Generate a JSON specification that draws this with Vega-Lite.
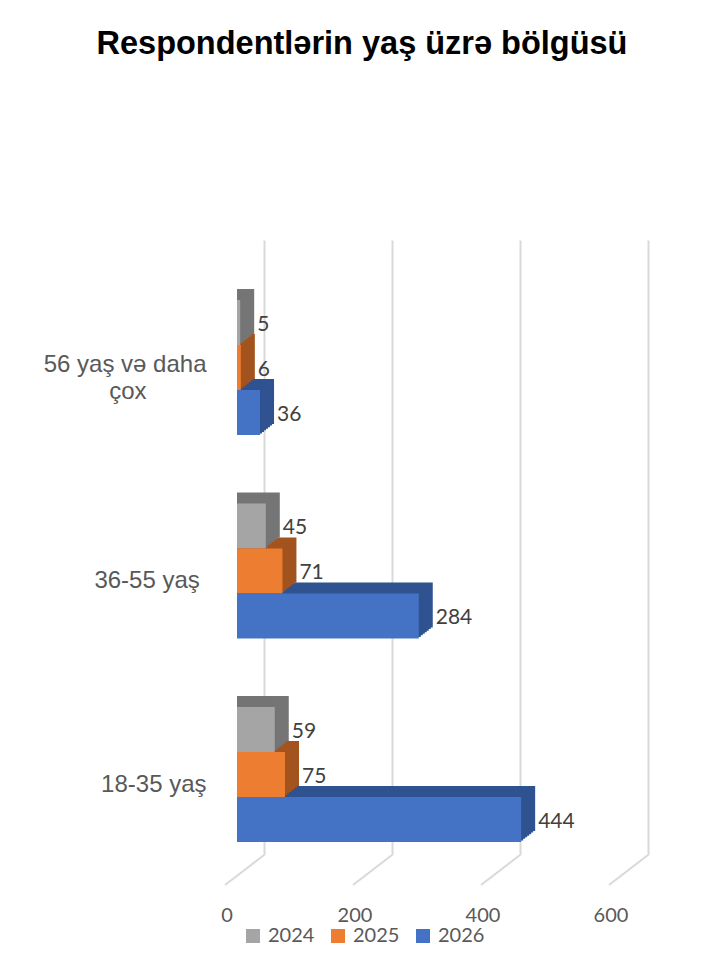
{
  "$schema": "https://vega.github.io/schema/vega-lite/v6.json",
  "autosize": {"type": "none"},
  "width": 384,
  "height": 615,
  "padding": {"left": 237, "top": 240, "right": 99, "bottom": 114},
  "background": "white",
  "config": {"view": {"stroke": null}, "font": "Liberation Sans"},
  "title": {"text": "Respondentlərin yaş üzrə bölgüsü", "font": "Liberation Sans", "fontSize": 32.5, "fontWeight": "bold", "color": "#000000", "anchor": "middle", "dx": -67, "offset": 154, "baseline": "alphabetic"},
  "datasets": {
    "bars": [
      {"cat": "56 yaş və daha çox", "year": "2024", "value": 5},
      {"cat": "56 yaş və daha çox", "year": "2025", "value": 6},
      {"cat": "56 yaş və daha çox", "year": "2026", "value": 36},
      {"cat": "36-55 yaş", "year": "2024", "value": 45},
      {"cat": "36-55 yaş", "year": "2025", "value": 71},
      {"cat": "36-55 yaş", "year": "2026", "value": 284},
      {"cat": "18-35 yaş", "year": "2024", "value": 59},
      {"cat": "18-35 yaş", "year": "2025", "value": 75},
      {"cat": "18-35 yaş", "year": "2026", "value": 444}
    ],
    "ticks": [{"tick": 0}, {"tick": 200}, {"tick": 400}, {"tick": 600}]
  },
  "data": {"name": "bars"},
  "encoding": {
    "y": {
      "field": "cat", "type": "nominal",
      "sort": ["56 yaş və daha çox", "36-55 yaş", "18-35 yaş"],
      "scale": {"paddingInner": 0.3366, "paddingOuter": 0.1794, "align": 0.822},
      "axis": {"title": null, "domain": false, "ticks": false, "labelFont": "Liberation Sans", "labelFontSize": 24, "labelColor": "#595959", "labelPadding": 31,
        "labelOffset": {"condition": {"test": "datum.value == '56 yaş və daha çox'", "value": -2.5}, "value": 10},
        "labelLineHeight": 27, "labelLimit": 400,
        "labelExpr": "datum.value == '56 yaş və daha çox' ? ['56 yaş və daha', 'çox\u00a0\u00a0\u00a0\u00a0\u00a0\u00a0\u00a0\u00a0\u00a0\u200b'] : datum.value == '36-55 yaş' ? '36-55 yaş\u00a0\u200b' : datum.label"}
    },
    "x": {
      "field": "value", "type": "quantitative", "stack": null,
      "scale": {"domain": [0, 600], "nice": false},
      "axis": {"title": null, "domain": false, "ticks": false, "grid": true, "gridColor": "#D9D9D9", "gridWidth": 2, "tickOffset": 27, "labelOffset": -37.5, "labelPadding": 50, "values": [0, 200, 400, 600], "labelFont": "Lato", "labelFontSize": 20, "labelColor": "#595959", "labelFlush": false}
    }
  },
  "layer": [
    {
      "data": {"name": "ticks"},
      "mark": {"type": "rule", "color": "#D9D9D9", "strokeWidth": 2, "xOffset": 27, "x2Offset": -12, "y2Offset": 30},
      "encoding": {
        "x": {"field": "tick", "type": "quantitative"},
        "x2": {"field": "tick"},
        "y": {"value": "height"},
        "y2": {"value": "height"}
      }
    },
    {"transform": [{"filter": "datum.year == '2024'"}], "mark": {"type": "bar", "height": 45, "color": "#757575", "xOffset": 14, "x2Offset": 14, "yOffset": -56, "y2Offset": -56}},
    {"transform": [{"filter": "datum.year == '2025'"}], "mark": {"type": "bar", "height": 45, "color": "#A3531D", "xOffset": 14, "x2Offset": 14, "yOffset": -11, "y2Offset": -11}},
    {"transform": [{"filter": "datum.year == '2026'"}], "mark": {"type": "bar", "height": 45, "color": "#2F5290", "xOffset": 14, "x2Offset": 14, "yOffset": 34, "y2Offset": 34}},
    {"transform": [{"filter": "datum.year == '2024'"}], "mark": {"type": "bar", "height": 45, "color": "#757575", "xOffset": 12, "x2Offset": 12, "yOffset": -54.43, "y2Offset": -54.43}},
    {"transform": [{"filter": "datum.year == '2025'"}], "mark": {"type": "bar", "height": 45, "color": "#A3531D", "xOffset": 12, "x2Offset": 12, "yOffset": -9.43, "y2Offset": -9.43}},
    {"transform": [{"filter": "datum.year == '2026'"}], "mark": {"type": "bar", "height": 45, "color": "#2F5290", "xOffset": 12, "x2Offset": 12, "yOffset": 35.57, "y2Offset": 35.57}},
    {"transform": [{"filter": "datum.year == '2024'"}], "mark": {"type": "bar", "height": 45, "color": "#757575", "xOffset": 10, "x2Offset": 10, "yOffset": -52.86, "y2Offset": -52.86}},
    {"transform": [{"filter": "datum.year == '2025'"}], "mark": {"type": "bar", "height": 45, "color": "#A3531D", "xOffset": 10, "x2Offset": 10, "yOffset": -7.86, "y2Offset": -7.86}},
    {"transform": [{"filter": "datum.year == '2026'"}], "mark": {"type": "bar", "height": 45, "color": "#2F5290", "xOffset": 10, "x2Offset": 10, "yOffset": 37.14, "y2Offset": 37.14}},
    {"transform": [{"filter": "datum.year == '2024'"}], "mark": {"type": "bar", "height": 45, "color": "#757575", "xOffset": 8, "x2Offset": 8, "yOffset": -51.29, "y2Offset": -51.29}},
    {"transform": [{"filter": "datum.year == '2025'"}], "mark": {"type": "bar", "height": 45, "color": "#A3531D", "xOffset": 8, "x2Offset": 8, "yOffset": -6.29, "y2Offset": -6.29}},
    {"transform": [{"filter": "datum.year == '2026'"}], "mark": {"type": "bar", "height": 45, "color": "#2F5290", "xOffset": 8, "x2Offset": 8, "yOffset": 38.71, "y2Offset": 38.71}},
    {"transform": [{"filter": "datum.year == '2024'"}], "mark": {"type": "bar", "height": 45, "color": "#757575", "xOffset": 6, "x2Offset": 6, "yOffset": -49.71, "y2Offset": -49.71}},
    {"transform": [{"filter": "datum.year == '2025'"}], "mark": {"type": "bar", "height": 45, "color": "#A3531D", "xOffset": 6, "x2Offset": 6, "yOffset": -4.71, "y2Offset": -4.71}},
    {"transform": [{"filter": "datum.year == '2026'"}], "mark": {"type": "bar", "height": 45, "color": "#2F5290", "xOffset": 6, "x2Offset": 6, "yOffset": 40.29, "y2Offset": 40.29}},
    {"transform": [{"filter": "datum.year == '2024'"}], "mark": {"type": "bar", "height": 45, "color": "#757575", "xOffset": 4, "x2Offset": 4, "yOffset": -48.14, "y2Offset": -48.14}},
    {"transform": [{"filter": "datum.year == '2025'"}], "mark": {"type": "bar", "height": 45, "color": "#A3531D", "xOffset": 4, "x2Offset": 4, "yOffset": -3.14, "y2Offset": -3.14}},
    {"transform": [{"filter": "datum.year == '2026'"}], "mark": {"type": "bar", "height": 45, "color": "#2F5290", "xOffset": 4, "x2Offset": 4, "yOffset": 41.86, "y2Offset": 41.86}},
    {"transform": [{"filter": "datum.year == '2024'"}], "mark": {"type": "bar", "height": 45, "color": "#757575", "xOffset": 2, "x2Offset": 2, "yOffset": -46.57, "y2Offset": -46.57}},
    {"transform": [{"filter": "datum.year == '2025'"}], "mark": {"type": "bar", "height": 45, "color": "#A3531D", "xOffset": 2, "x2Offset": 2, "yOffset": -1.57, "y2Offset": -1.57}},
    {"transform": [{"filter": "datum.year == '2026'"}], "mark": {"type": "bar", "height": 45, "color": "#2F5290", "xOffset": 2, "x2Offset": 2, "yOffset": 43.43, "y2Offset": 43.43}},
    {
      "transform": [{"filter": "datum.year == '2024'"}],
      "mark": {"type": "bar", "height": 45, "yOffset": -45, "y2Offset": -45},
      "encoding": {"color": {"field": "year", "type": "nominal", "scale": {"domain": ["2024", "2025", "2026"], "range": ["#A5A5A5", "#ED7D31", "#4472C4"]},
        "legend": {"orient": "none", "direction": "horizontal", "title": null, "legendX": 6, "legendY": 686, "symbolType": "square", "symbolSize": 196, "symbolStrokeWidth": 0, "labelFont": "Lato", "labelFontSize": 20, "labelColor": "#595959", "labelOffset": 5, "columnPadding": 13}}}
    },
    {
      "transform": [{"filter": "datum.year == '2025'"}],
      "mark": {"type": "bar", "height": 45, "yOffset": 0, "y2Offset": 0},
      "encoding": {"color": {"field": "year", "type": "nominal", "scale": {"domain": ["2024", "2025", "2026"], "range": ["#A5A5A5", "#ED7D31", "#4472C4"]},
        "legend": {"orient": "none", "direction": "horizontal", "title": null, "legendX": 6, "legendY": 686, "symbolType": "square", "symbolSize": 196, "symbolStrokeWidth": 0, "labelFont": "Lato", "labelFontSize": 20, "labelColor": "#595959", "labelOffset": 5, "columnPadding": 13}}}
    },
    {
      "transform": [{"filter": "datum.year == '2026'"}],
      "mark": {"type": "bar", "height": 45, "yOffset": 45, "y2Offset": 45},
      "encoding": {"color": {"field": "year", "type": "nominal", "scale": {"domain": ["2024", "2025", "2026"], "range": ["#A5A5A5", "#ED7D31", "#4472C4"]},
        "legend": {"orient": "none", "direction": "horizontal", "title": null, "legendX": 6, "legendY": 686, "symbolType": "square", "symbolSize": 196, "symbolStrokeWidth": 0, "labelFont": "Lato", "labelFontSize": 20, "labelColor": "#595959", "labelOffset": 5, "columnPadding": 13}}}
    },
    {"transform": [{"filter": "datum.year == '2024'"}], "mark": {"type": "text", "align": "left", "baseline": "middle", "xOffset": 17, "yOffset": -43, "font": "Lato", "fontSize": 21, "color": "#404040"}, "encoding": {"text": {"field": "value", "type": "quantitative"}}},
    {"transform": [{"filter": "datum.year == '2025'"}], "mark": {"type": "text", "align": "left", "baseline": "middle", "xOffset": 17, "yOffset": 2, "font": "Lato", "fontSize": 21, "color": "#404040"}, "encoding": {"text": {"field": "value", "type": "quantitative"}}},
    {"transform": [{"filter": "datum.year == '2026'"}], "mark": {"type": "text", "align": "left", "baseline": "middle", "xOffset": 17, "yOffset": 47, "font": "Lato", "fontSize": 21, "color": "#404040"}, "encoding": {"text": {"field": "value", "type": "quantitative"}}}
  ]
}
